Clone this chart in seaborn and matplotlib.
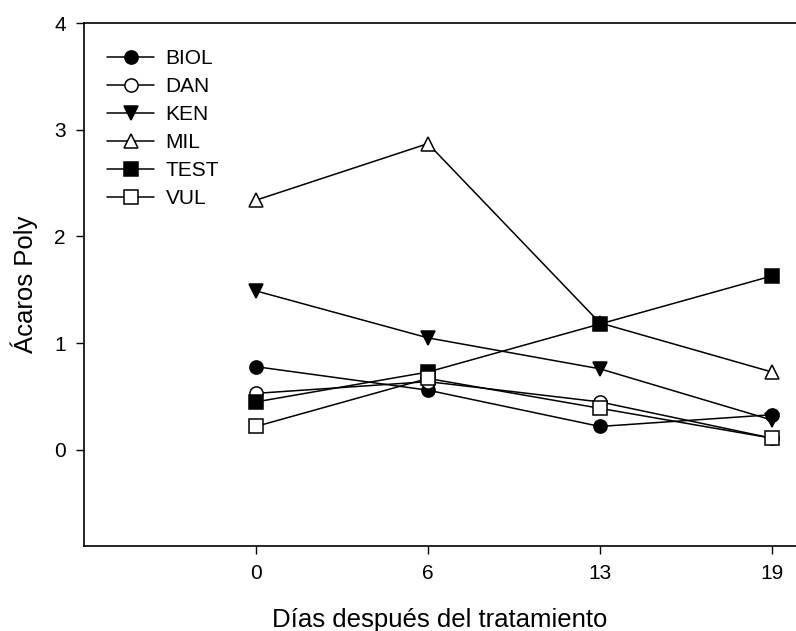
import matplotlib
matplotlib.use("Agg")
import matplotlib.pyplot as plt
import seaborn as sns
import pandas as pd

# Datos
dias = ["0", "6", "13", "19"]
biol = [0.78, 0.56, 0.22, 0.33]
dan = [0.53, 0.64, 0.45, 0.11]
ken = [1.49, 1.05, 0.76, 0.28]
mil = [2.34, 2.87, 1.19, 0.73]
test = [0.45, 0.73, 1.18, 1.63]
vul = [0.22, 0.67, 0.39, 0.11]

series = ["BIOL", "DAN", "KEN", "MIL", "TEST", "VUL"]
valores = [biol, dan, ken, mil, test, vul]
marcadores = {"BIOL": ("o", "black"), "DAN": ("o", "white"),
              "KEN": ("v", "black"), "MIL": ("^", "white"),
              "TEST": ("s", "black"), "VUL": ("s", "white")}

sns.set_style("ticks")
plt.rcParams['font.family'] = ['Liberation Sans', 'DejaVu Sans']
plt.rcParams.update({'text.color': 'black', 'axes.labelcolor': 'black',
                     'xtick.color': 'black', 'ytick.color': 'black'})

fig = plt.figure(figsize=(7.96, 6.31), dpi=100)
ax = fig.add_axes([84 / 796, 1 - 546 / 631, 712 / 796, (546 - 23) / 631])

for nombre, vals in zip(series, valores):
    df = pd.DataFrame({'dia': dias, 'valor': vals})
    m, fc = marcadores[nombre]
    sns.lineplot(data=df, x='dia', y='valor', ax=ax, sort=False,
                 color='black', linewidth=1.1, marker=m, markersize=9.5,
                 markerfacecolor=fc, markeredgecolor='black',
                 markeredgewidth=1.1, label=nombre)

ax.set_xlim(-1, 3.14)
ax.set_ylim(-0.9, 4)
ax.set_yticks([0, 1, 2, 3, 4])
ax.set_xlabel('Días después del tratamiento', fontsize=18.5, labelpad=18)
ax.set_ylabel('Ácaros Poly', fontsize=18.5, labelpad=12)
ax.tick_params(axis='both', labelsize=15, length=6, width=1, color='black',
               direction='out', pad=7)
ax.spines['right'].set_visible(False)
for s in ['left', 'top', 'bottom']:
    ax.spines[s].set_color('black')
    ax.spines[s].set_linewidth(1.2)

ax.legend(loc='upper left', frameon=False, fontsize=15, handlelength=2.26,
          handletextpad=0.53, labelspacing=0.43,
          bbox_to_anchor=(0.021, 0.966), borderaxespad=0)

fig.savefig('out.png', dpi=100)
